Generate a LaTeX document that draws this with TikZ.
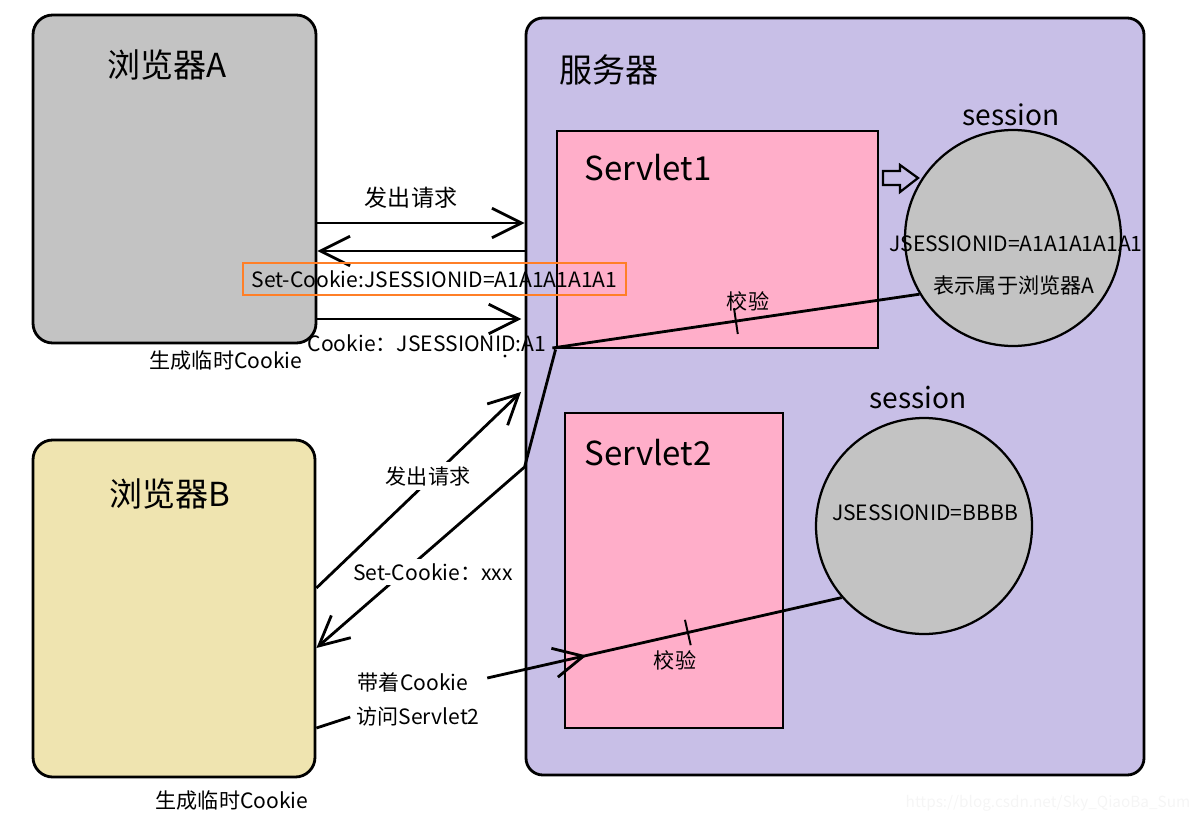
\documentclass[tikz,border=0pt]{standalone}
\usepackage{fontspec}
\setmainfont{Noto Sans CJK SC}
\usetikzlibrary{positioning,calc,fit,arrows.meta,decorations.markings}
\definecolor{agray}{HTML}{C3C3C3}
\definecolor{bbeige}{HTML}{EFE4B0}
\definecolor{srvpurple}{HTML}{C8BFE7}
\definecolor{sltpink}{HTML}{FFAEC9}
\definecolor{hlorange}{HTML}{FF7F27}

\begin{document}
\begin{tikzpicture}[x=0.025cm, y=-0.025cm, line width=2pt,
    box/.style={draw, line width=2pt, inner sep=0pt},
    ses/.style={draw, circle, fill=agray, line width=1.6pt, minimum size=216*0.025cm, inner sep=0pt},
    arr/.style={-{Straight Barb[length=21pt,width=21pt]}},
    bigtxt/.style={font=\fontsize{23.5}{28}\selectfont},
    midtxt/.style={font=\fontsize{20}{24}\selectfont},
    medtxt/.style={font=\fontsize{16.4}{20}\selectfont},
    smalltxt/.style={font=\fontsize{15}{18}\selectfont},
    vtick/.style={postaction={decorate, decoration={markings,
        mark=at position #1 with {\draw[line width=1.4pt] (0,-13) -- (0,13);}}}},
    midarr/.style={postaction={decorate, decoration={markings,
        mark=at position #1 with {\arrow[line width=2pt]{Straight Barb[length=21pt,width=21pt]}}}}}]
    \useasboundingbox (0,0) rectangle (1196,821);

    \node[box, fit={(33,15) (316,343)}, fill=agray, rounded corners=14pt] (browserA) {};
    \node[box, fit={(33,440) (315,777)}, fill=bbeige, rounded corners=14pt] (browserB) {};
    \node[box, fit={(526,18) (1144,775)}, fill=srvpurple, rounded corners=12pt] (server) {};
    \node[box, fit={(557,131) (878,348)}, fill=sltpink] (servletA) {};
    \node[box, fit={(565,413) (783,728)}, fill=sltpink] (servletB) {};
    \node[ses] (sessA) at (1013,238) {};
    \node[ses] (sessB) at (924,526) {};

    \node[bigtxt] (titleA) at (167,65) {浏览器A};
    \node[bigtxt] (titleB) at (170,494) {浏览器B};
    \node[bigtxt] (titleS) at (609,70) {服务器};
    \node[bigtxt] (nameA) at (648,168) {Servlet1};
    \node[bigtxt] (nameB) at (648,453) {Servlet2};
    \node[midtxt] (sesLabA) at (1011,115) {session};
    \node[midtxt] (sesLabB) at (918,398) {session};
    \node[smalltxt] (idA) at (1016,244) {JSESSIONID=A1A1A1A1A1};
    \node[smalltxt] (ownA) at (1014,285) {表示属于浏览器A};
    \node[smalltxt] (idB) at (925,513) {JSESSIONID=BBBB};
    \node[smalltxt] (tmpA) at (226,361) {生成临时Cookie};
    \node[smalltxt] (tmpB) at (232,800) {生成临时Cookie};

    \draw[line width=1.6pt] (883,171) -- (900,171) -- (900,165) -- (918,178)
        -- (900,192) -- (900,185) -- (883,185) -- cycle;

    \node[medtxt] (reqA) at (411,198) {发出请求};
    \draw[arr] (browserA.east |- 0,223) -- (server.west |- 0,223);
    \draw[arr] (server.west |- 0,251) -- (browserA.east |- 0,251);
    \node[smalltxt, draw=hlorange, line width=2pt, inner xsep=0pt,
        minimum width=383*0.025cm, minimum height=32*0.025cm] (setA) at (434.5,279)
        {Set-Cookie:JSESSIONID=A1A1A1A1A1};
    \draw[arr] (browserA.east |- 0,319) -- ++(204,0);
    \node[smalltxt] (cookieA) at (427,343) {Cookie：JSESSIONID:A1};
    \draw[vtick=.5] ($(cookieA.east)+(0,5)$) -- (sessA.211);
    \node[smalltxt] (checkA) at (748,301) {校验};

    \draw[arr] (browserB.east |- 0,588) -- (521,392);
    \draw[arr] (servletA.south west) -- (server.west |- 0,467) -- (browserB.east |- 0,648);
    \node[smalltxt, fill=white] (reqB) at (428,476) {发出请求};
    \node[smalltxt, fill=white] (setB) at (433,572) {Set-Cookie：xxx};

    \node[smalltxt] (carry) at (413,682) {带着Cookie};
    \node[smalltxt] (visit) at (418,717) {访问Servlet2};
    \draw (browserB.east |- 0,728) -- (visit.west);
    \draw[midarr=.28, vtick=.566] ($(carry.east)+(13,-4)$) -- (sessB.221);
    \node[smalltxt] (checkB) at (675,660) {校验};

    \fill (505,356) circle (1.2pt);
    \fill (928,387) circle (1.2pt);
    \node[font=\fontsize{10.9}{13}\selectfont, text=black!4] (mark) at (1048,803)
        {https://blog.csdn.net/Sky\_QiaoBa\_Sum};
\end{tikzpicture}
\end{document}
